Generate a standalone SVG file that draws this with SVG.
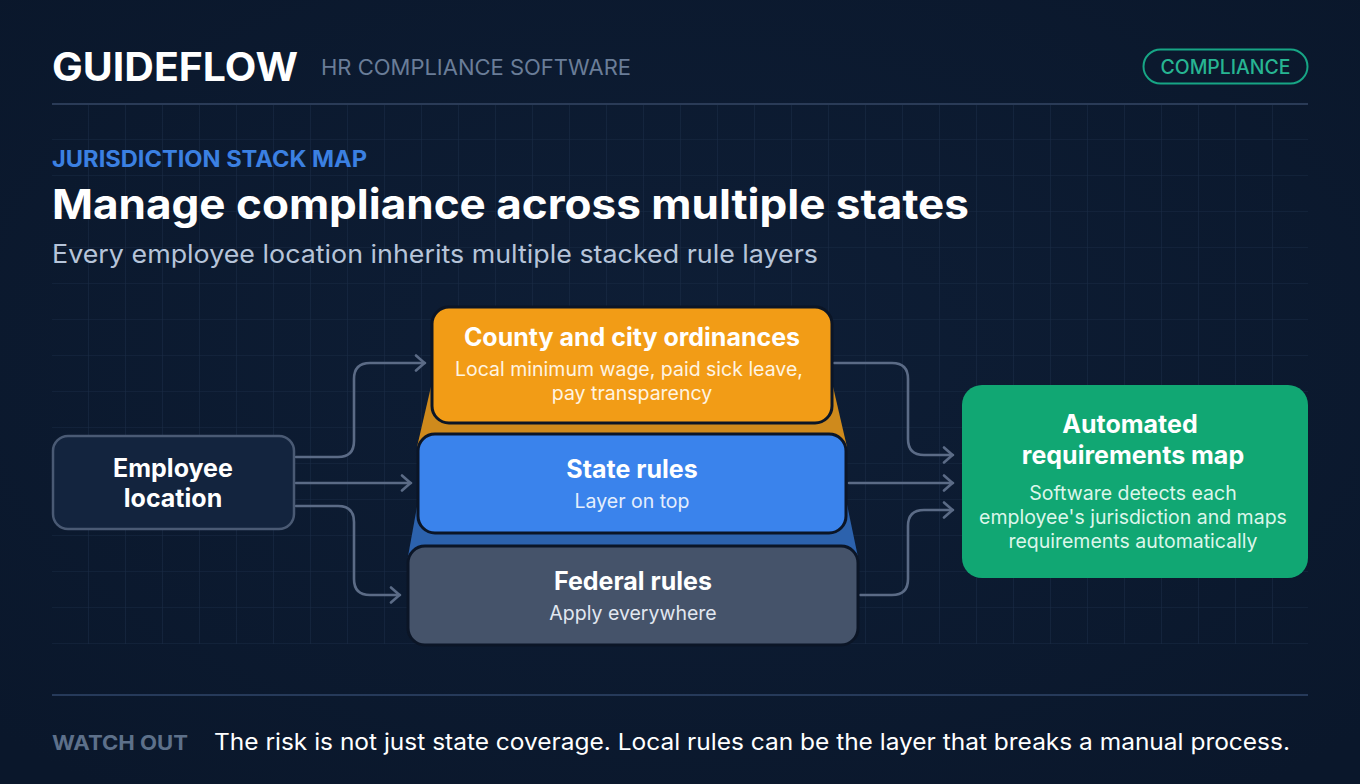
<svg xmlns="http://www.w3.org/2000/svg" width="1360" height="784" viewBox="0 0 1360 784">
  <defs>
    <pattern id="grid" x="52" y="104" width="37" height="36" patternUnits="userSpaceOnUse">
      <path d="M37 0 V36 M0 36 H37" fill="none" stroke="#1c2d48" stroke-width="1.2"/>
    </pattern>
    <radialGradient id="bgGlow" cx="0.5" cy="0.45" r="0.7">
      <stop offset="0" stop-color="#0e1e36"/>
      <stop offset="1" stop-color="#0a172b"/>
    </radialGradient>
    <marker id="arrow" viewBox="0 0 12 18" refX="11" refY="9" markerWidth="12" markerHeight="18" markerUnits="userSpaceOnUse" orient="auto">
      <path d="M2 1.5 L10.5 9 L2 16.5" fill="none" stroke="#5b6b86" stroke-width="2.6" stroke-linecap="round" stroke-linejoin="round"/>
    </marker>
    <style>
      text { font-family: Inter, "Liberation Sans", sans-serif; }
      .conn { fill: none; stroke: #5b6b86; stroke-width: 2.6; stroke-linecap: round; stroke-linejoin: round; marker-end: url(#arrow); }
      .layer { stroke: #0b1526; stroke-width: 3; }
      .ntitle { font-weight: 700; font-size: 25px; fill: #ffffff; text-anchor: middle; }
      .ndesc { font-weight: 400; font-size: 19.5px; text-anchor: middle; }
    </style>
  </defs>

  <rect width="1360" height="784" fill="url(#bgGlow)"/>
  <rect x="52" y="104" width="1256" height="540" fill="url(#grid)" opacity="0.85"/>

  <g id="header">
    <text x="52" y="81" font-size="39" font-weight="700" fill="#ffffff" textLength="246" lengthAdjust="spacingAndGlyphs">GUIDEFLOW</text>
    <text x="321" y="75" font-size="21.5" font-weight="400" fill="#6a7d98" textLength="310" lengthAdjust="spacingAndGlyphs">HR COMPLIANCE SOFTWARE</text>
    <rect x="1143.5" y="49.5" width="164" height="34" rx="17" fill="none" stroke="#17a585" stroke-width="2"/>
    <text x="1225.5" y="74" font-size="19.5" font-weight="500" fill="#27b592" text-anchor="middle" textLength="130" lengthAdjust="spacingAndGlyphs">COMPLIANCE</text>
    <line x1="52" y1="104" x2="1308" y2="104" stroke="#2a3b57" stroke-width="2"/>
  </g>

  <g id="titles">
    <text x="52" y="167" font-size="22.5" font-weight="700" fill="#3b80e2" textLength="315" lengthAdjust="spacingAndGlyphs">JURISDICTION STACK MAP</text>
    <text x="52" y="219" font-size="41" font-weight="700" fill="#ffffff" textLength="917" lengthAdjust="spacingAndGlyphs">Manage compliance across multiple states</text>
    <text x="52" y="263" font-size="25" font-weight="400" fill="#b6c4d9" textLength="766" lengthAdjust="spacingAndGlyphs">Every employee location inherits multiple stacked rule layers</text>
  </g>

  <g id="stack-shading">
    <polygon points="433,378 831,378 847,447 417,447" fill="#cf8a1c"/>
    <polygon points="420,490 844,490 859,562 407,562" fill="#2c62ad"/>
  </g>

  <g id="connectors">
    <path class="conn" d="M296 457 H338 Q354 457 354 441 V379 Q354 363 370 363 H425"/>
    <path class="conn" d="M296 483 H411"/>
    <path class="conn" d="M296 506 H338 Q354 506 354 522 V579 Q354 595 370 595 H400"/>
    <path class="conn" d="M834 363 H892 Q908 363 908 379 V439 Q908 455 924 455 H953"/>
    <path class="conn" d="M849 483 H953"/>
    <path class="conn" d="M860 595 H892 Q908 595 908 579 V526 Q908 510 924 510 H953"/>
  </g>

  <g id="node-employee">
    <rect x="53" y="436" width="241" height="93" rx="15" fill="#13243e" stroke="#4a5a74" stroke-width="2.5"/>
    <text class="ntitle" x="173" y="477">Employee</text>
    <text class="ntitle" x="173" y="507">location</text>
  </g>

  <g id="node-federal">
    <rect class="layer" x="408" y="546" width="450" height="99" rx="17" fill="#45536a"/>
    <text class="ntitle" x="633" y="590">Federal rules</text>
    <text class="ndesc" x="633" y="620" fill="#e1e7f0">Apply everywhere</text>
  </g>

  <g id="node-state">
    <rect class="layer" x="418" y="434" width="428" height="99" rx="17" fill="#3a83ec"/>
    <text class="ntitle" x="632" y="478">State rules</text>
    <text class="ndesc" x="632" y="508" fill="#e4eefc">Layer on top</text>
  </g>

  <g id="node-county">
    <rect class="layer" x="432" y="307" width="400" height="116" rx="17" fill="#f29c16"/>
    <text class="ntitle" x="632" y="346">County and city ordinances</text>
    <text class="ndesc" x="629" y="376" fill="#fff4e2">Local minimum wage, paid sick leave,</text>
    <text class="ndesc" x="632" y="400" fill="#fff4e2">pay transparency</text>
  </g>

  <g id="node-automated">
    <rect x="962" y="385" width="346" height="193" rx="20" fill="#11a773"/>
    <text class="ntitle" x="1130" y="433">Automated</text>
    <text class="ntitle" x="1133" y="464">requirements map</text>
    <text class="ndesc" x="1133" y="500" fill="#dcf6ea">Software detects each</text>
    <text class="ndesc" x="1133" y="524" fill="#dcf6ea">employee's jurisdiction and maps</text>
    <text class="ndesc" x="1133" y="548" fill="#dcf6ea">requirements automatically</text>
  </g>

  <g id="footer">
    <line x1="52" y1="695" x2="1308" y2="695" stroke="#263a5a" stroke-width="2"/>
    <text x="52" y="750" font-size="20" font-weight="700" fill="#5d708a" textLength="136" lengthAdjust="spacingAndGlyphs">WATCH OUT</text>
    <text x="214" y="750" font-size="22.5" font-weight="400" fill="#ffffff" textLength="1076" lengthAdjust="spacingAndGlyphs">The risk is not just state coverage. Local rules can be the layer that breaks a manual process.</text>
  </g>
</svg>
